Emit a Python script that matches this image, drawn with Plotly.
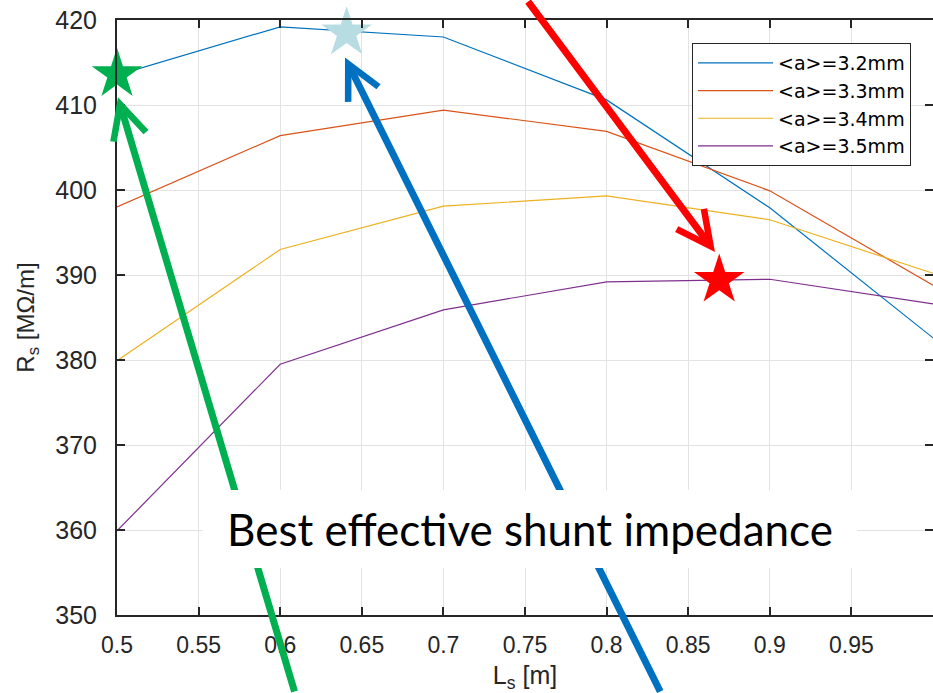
import plotly.graph_objects as go

# Structure length L_s [m] and shunt impedance R_s [MOhm/m] for four mean iris radii
ls = [0.5, 0.6, 0.7, 0.8, 0.9, 1.0]
rs_a32 = [413.5, 419.2, 418.0, 410.6, 397.9, 382.6]
rs_a33 = [398.0, 406.4, 409.4, 406.9, 399.9, 388.8]
rs_a34 = [379.9, 393.0, 398.1, 399.3, 396.5, 390.2]
rs_a35 = [359.9, 379.5, 385.9, 389.2, 389.5, 386.6]
series_names = ["&lt;a&gt;=3.2mm", "&lt;a&gt;=3.3mm", "&lt;a&gt;=3.4mm", "&lt;a&gt;=3.5mm"]
series_colors = ["#0072BD", "#D95319", "#EDB120", "#7E2F8E"]

# Highlighted optima (stars)
best_ls = [0.5, 0.6407, 0.869]
best_rs = [413.6, 418.5, 389.4]
best_colors = ["#00B050", "#B7DDE3", "#FF0000"]

# Arrow tips (data coords) and tail offsets (px, tails sit on the page edge)
arrow_tip_ls = [0.5006, 0.6397, 0.8664]
arrow_tip_rs = [410.9, 415.6, 392.7]
arrow_tail_dx = [177, 316, -188]
arrow_tail_dy = [596, 636, -252]
arrow_colors = ["#00B050", "#0070C0", "#FF0000"]

x_ticks = [0.5, 0.55, 0.6, 0.65, 0.7, 0.75, 0.8, 0.85, 0.9, 0.95, 1.0]
x_ticktext = ["0.5", "0.55", "0.6", "0.65", "0.7", "0.75", "0.8", "0.85", "0.9", "0.95", "1"]
y_ticks = [350, 360, 370, 380, 390, 400, 410, 420]

W, H = 933, 693
M_L, M_R, M_T, M_B = 117, 0, 20, 78

fig = go.Figure()
for rs, name, color in zip([rs_a32, rs_a33, rs_a34, rs_a35], series_names, series_colors):
    fig.add_trace(go.Scatter(x=ls, y=rs, mode="lines", name=name,
                             line=dict(color=color, width=1.2)))

fig.add_trace(go.Scatter(x=best_ls, y=best_rs, mode="markers", showlegend=False,
                         cliponaxis=False,
                         marker=dict(symbol="star", size=38, color=best_colors,
                                     line=dict(width=0))))

for tx, ty, dx, dy, c in zip(arrow_tip_ls, arrow_tip_rs, arrow_tail_dx, arrow_tail_dy, arrow_colors):
    fig.add_annotation(x=tx, y=ty, xref="x", yref="y", ax=dx, ay=dy,
                       text="", showarrow=True, arrowhead=5, arrowsize=0.95,
                       arrowwidth=7, arrowcolor=c, standoff=0)

# Caption box on top of the arrows
cap_cx, cap_cy = 530, 529
fig.add_annotation(x=(cap_cx - M_L) / (W - M_L - M_R), y=(H - M_B - cap_cy) / (H - M_T - M_B),
                   xref="paper", yref="paper", xanchor="center", yanchor="middle",
                   text="Best effective shunt impedance", showarrow=False,
                   width=654, height=78, bgcolor="white", borderpad=0, borderwidth=0,
                   font=dict(family="Lato", size=44, color="black"))

ink = "#262626"
common = dict(showline=True, linecolor=ink, linewidth=2, mirror="ticks",
              ticks="inside", ticklen=8, tickwidth=2, tickcolor=ink,
              showgrid=True, gridcolor="#E3E3E3", gridwidth=1, zeroline=False)

fig.update_xaxes(range=[0.5, 1.0], tickvals=x_ticks, ticktext=x_ticktext,
                 ticklabelstandoff=8,
                 tickfont=dict(family="Liberation Sans", size=23, color=ink),
                 title=dict(text="L<sub>s</sub> [m]",
                            font=dict(family="Liberation Sans", size=25, color=ink),
                            standoff=12),
                 **common)
fig.update_yaxes(range=[350, 420], tickvals=y_ticks, ticklabelstandoff=13,
                 ticksuffix="\u00a0",
                 tickfont=dict(family="Liberation Sans", size=25, color=ink),
                 title=dict(text="R<sub>s</sub> [M\u03a9/m]",
                            font=dict(family="Liberation Sans", size=24, color=ink),
                            standoff=14),
                 **common)

fig.update_layout(
    width=W, height=H,
    margin=dict(l=M_L, r=M_R, t=M_T, b=M_B, autoexpand=False),
    plot_bgcolor="white", paper_bgcolor="white",
    showlegend=True,
    legend=dict(x=(692 - M_L) / (W - M_L - M_R), y=(H - M_B - 43) / (H - M_T - M_B),
                xanchor="left", yanchor="top", bgcolor="white",
                bordercolor=ink, borderwidth=1, itemwidth=75,
                font=dict(family="DejaVu Sans", size=19, color="black"),
                tracegroupgap=0),
)

fig.write_html("out.html")
